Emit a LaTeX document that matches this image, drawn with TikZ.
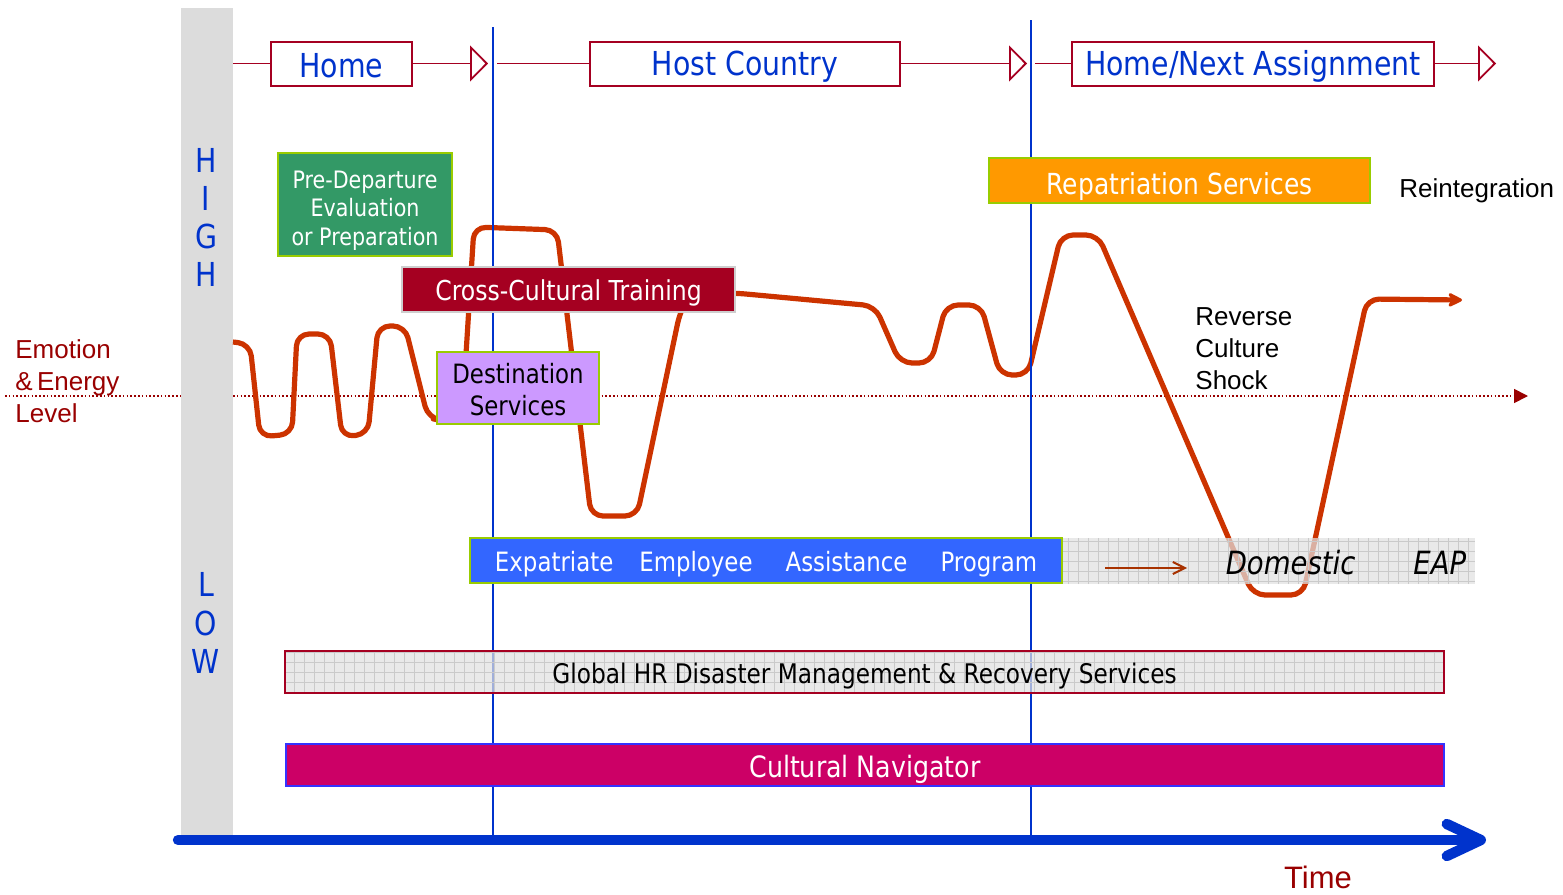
\documentclass[tikz,border=0pt]{standalone}
\usepackage{fontspec}
\setmainfont{Liberation Sans}
\newfontfamily\tah[FakeStretch=0.86]{DejaVu Sans}
\usetikzlibrary{arrows.meta}
\definecolor{barg}{HTML}{DCDCDC}
\definecolor{lblue}{HTML}{0033CC}
\definecolor{tlred}{HTML}{A50021}
\definecolor{cctred}{HTML}{A50021}
\definecolor{pgreen}{HTML}{339966}
\definecolor{lime}{HTML}{99CC00}
\definecolor{lpurple}{HTML}{CC99FF}
\definecolor{orng}{HTML}{FF9900}
\definecolor{eapblue}{HTML}{3366FF}
\definecolor{magen}{HTML}{CC0066}
\definecolor{curvec}{HTML}{CC3300}
\definecolor{emored}{HTML}{990000}
\definecolor{gridgray}{HTML}{E0E0E0}
\definecolor{gridline}{HTML}{CACACA}
\definecolor{brownar}{HTML}{A83200}
\definecolor{cnblue}{HTML}{3333FF}
\begin{document}
\begin{tikzpicture}[x=0.5pt,y=-0.5pt,
  tl/.style={draw=tlred, line width=0.9pt},
  tbox/.style={draw=tlred, line width=1pt, fill=white, inner sep=0pt},
  ttext/.style={inner sep=0pt, text=lblue, font=\tah\fontsize{16.5}{18}\selectfont},
  sbox/.style={inner sep=0pt, line width=1pt},
  stext/.style={inner sep=0pt, align=center},
  gbar/.style={fill=gridgray, fill opacity=0.72, inner sep=0pt,
    path picture={\draw[gridline, line width=0.5pt, step=5pt]
      (path picture bounding box.south west) grid (path picture bounding box.north east);}},
  vline/.style={draw=lblue, line width=1.3pt},
  letter/.style={text=lblue, font=\tah\fontsize{16.5}{18}\selectfont, inner sep=0pt},
  armtext/.style={font=\fontsize{13}{16}\selectfont, align=left, inner sep=0pt},
  emocurve/.style={draw=curvec, line width=2.6pt, rounded corners=6pt, line join=round}
]
\useasboundingbox (0,0) rectangle (1563,894);

% dotted energy level line
\coordinate (d0) at (5,396);
\coordinate (d1) at (1528,396);
\draw[emored, line width=0.85pt, dash pattern=on 0.8pt off 1.1pt,
  -{Triangle[length=7pt,width=7pt]}] (d0) -- (d1);

% grey vertical bar
\fill[barg] (181,8) rectangle (233,835);

% emotion curve
\coordinate (c0) at (233,342);
\coordinate (c1) at (1462,300);
\draw[emocurve, -{Stealth[length=9pt,width=9pt,inset=3pt,round]}]
  (c0) -- (250,344) -- (260,437) -- (292,434) -- (297,334) -- (330,334)
  -- (342,437) -- (368,434) -- (378,326) -- (405,326) -- (428,418)
  -- (445,421) -- (462,418) -- (474,227) -- (557,230) -- (591,516)
  -- (637,516) -- (680,312) -- (690,293) -- (735,293) -- (875,306)
  -- (900,363) -- (931,363) -- (946,305) -- (981,305) -- (1000,375)
  -- (1028,375) -- (1061,235) -- (1098,235) -- (1253,595) -- (1303,595)
  -- (1367,299) -- (c1);

% phase separators
\coordinate (v1t) at (493,27);  \coordinate (v1b) at (493,835);
\coordinate (v2t) at (1031,20); \coordinate (v2b) at (1031,835);
\draw[vline] (v1t) -- (v1b);
\draw[vline] (v2t) -- (v2b);

% top timeline
\node[tbox, minimum width=70.5pt, minimum height=22pt] (home) at (341.5,63.5) {};
\node[tbox, minimum width=155pt, minimum height=22pt] (host) at (745,63.5) {};
\node[tbox, minimum width=181pt, minimum height=22pt] (next) at (1253,63.5) {};
\node[ttext] (home-t) at ([yshift=-1pt]home.center) {Home};
\node[ttext] (host-t) at ([yshift=-1.5pt]host.center) {Host Country};
\node[ttext] (next-t) at ([yshift=-1.5pt]next.center) {Home/Next Assignment};
\coordinate (s0) at (233,63.5);
\coordinate (a1) at (488,63.5);
\coordinate (s1) at (497,63.5);
\coordinate (a2) at (1027,63.5);
\coordinate (s2) at (1035,63.5);
\coordinate (a3) at (1496,63.5);
\draw[tl] (s0) -- (home.west);
\draw[tl, -{Triangle[open,length=9pt,width=18pt]}] (home.east) -- (a1);
\draw[tl] (s1) -- (host.west);
\draw[tl, -{Triangle[open,length=9pt,width=18pt]}] (host.east) -- (a2);
\draw[tl] (s2) -- (next.west);
\draw[tl, -{Triangle[open,length=9pt,width=18pt]}] (next.east) -- (a3);

% HIGH / LOW
\node[letter] (h1) at (206,160) {H};
\node[letter] (h2) at (206,198) {I};
\node[letter] (h3) at (206,236) {G};
\node[letter] (h4) at (206,274) {H};
\node[letter] (l1) at (206,584) {L};
\node[letter] (l2) at (206,623) {O};
\node[letter] (l3) at (206,661) {W};

% left label
\node[armtext, anchor=west, text=emored] (emo) at (15,381) {Emotion\\\&\,Energy\\Level};

% service boxes
\node[sbox, fill=pgreen, draw=lime, minimum width=87pt, minimum height=51.5pt] (pre) at (365,204.5) {};
\node[stext, text=white, font=\tah\fontsize{12}{14.25}\selectfont] (pre-t)
  at ([yshift=-3pt]pre.center) {Pre-Departure\\Evaluation\\or Preparation};
\node[sbox, fill=cctred, draw=barg!85!gray, minimum width=166.5pt, minimum height=22.5pt] (cct) at (568.5,289.5) {};
\node[stext, text=white, font=\tah\fontsize{13.7}{16}\selectfont] (cct-t)
  at ([yshift=-1.5pt]cct.center) {Cross-Cultural Training};
\node[sbox, fill=lpurple, draw=lime, minimum width=81pt, minimum height=36pt] (dest) at (518,388) {};
\node[stext, text=black, font=\tah\fontsize{13.3}{16}\selectfont] (dest-t)
  at ([yshift=-1pt]dest.center) {Destination\\Services};
\node[sbox, fill=orng, draw=lime, minimum width=190.5pt, minimum height=22.5pt] (repat) at (1179.5,180.5) {};
\node[stext, text=white, font=\tah\fontsize{14.5}{16}\selectfont] (repat-t)
  at ([yshift=-3pt]repat.center) {Repatriation Services};

\node[armtext, anchor=west] (reint) at (1399,191) {Reintegration};
\node[armtext, anchor=west] (rcs) at (1195,349) {Reverse\\Culture\\Shock};

% EAP bars
\node[gbar, minimum width=206.5pt, minimum height=23pt] (dom) at (1268.5,561) {};
\node[sbox, fill=eapblue, draw=lime, minimum width=296pt, minimum height=22.5pt] (eap) at (766,560.5) {};
\node[stext, text=white, font=\tah\fontsize{13.3}{16}\selectfont] (eap-t)
  at ([yshift=-2pt]eap.center)
  {Expatriate\hspace{13pt}Employee\hspace{16.5pt}Assistance\hspace{16.5pt}Program};
\node[inner sep=0pt, font=\tah\itshape\fontsize{16}{18}\selectfont] (domt) at (1346,563)
  {Domestic\hspace{29pt}EAP};
\coordinate (b0) at (1105,568);
\coordinate (b1) at (1187,568);
\draw[brownar, line width=1pt, -{Straight Barb[length=6pt,width=6pt]}] (b0) -- (b1);

% global HR bar
\node[gbar, draw=tlred, line width=1pt, minimum width=579.5pt, minimum height=21pt] (ghr) at (864.5,672) {};
\node[stext, font=\tah\fontsize{13.5}{16}\selectfont] (ghr-t)
  at ([yshift=-2pt]ghr.center) {Global HR Disaster Management \& Recovery Services};

% cultural navigator
\node[sbox, fill=magen, draw=cnblue, minimum width=579pt, minimum height=21pt] (cn) at (865,765) {};
\node[stext, text=white, font=\tah\fontsize{14.7}{16}\selectfont] (cn-t)
  at ([yshift=-2pt]cn.center) {Cultural Navigator};

% time axis
\coordinate (t0) at (178,840);
\coordinate (t1) at (1486,840);
\draw[lblue, line width=5.2pt, line cap=round,
  -{Straight Barb[round,length=17pt,width=16pt]}] (t0) -- (t1);
\node[inner sep=0pt, text=emored, font=\fontsize{15.5}{18}\selectfont] (time) at (1318,877) {Time};
\end{tikzpicture}
\end{document}
